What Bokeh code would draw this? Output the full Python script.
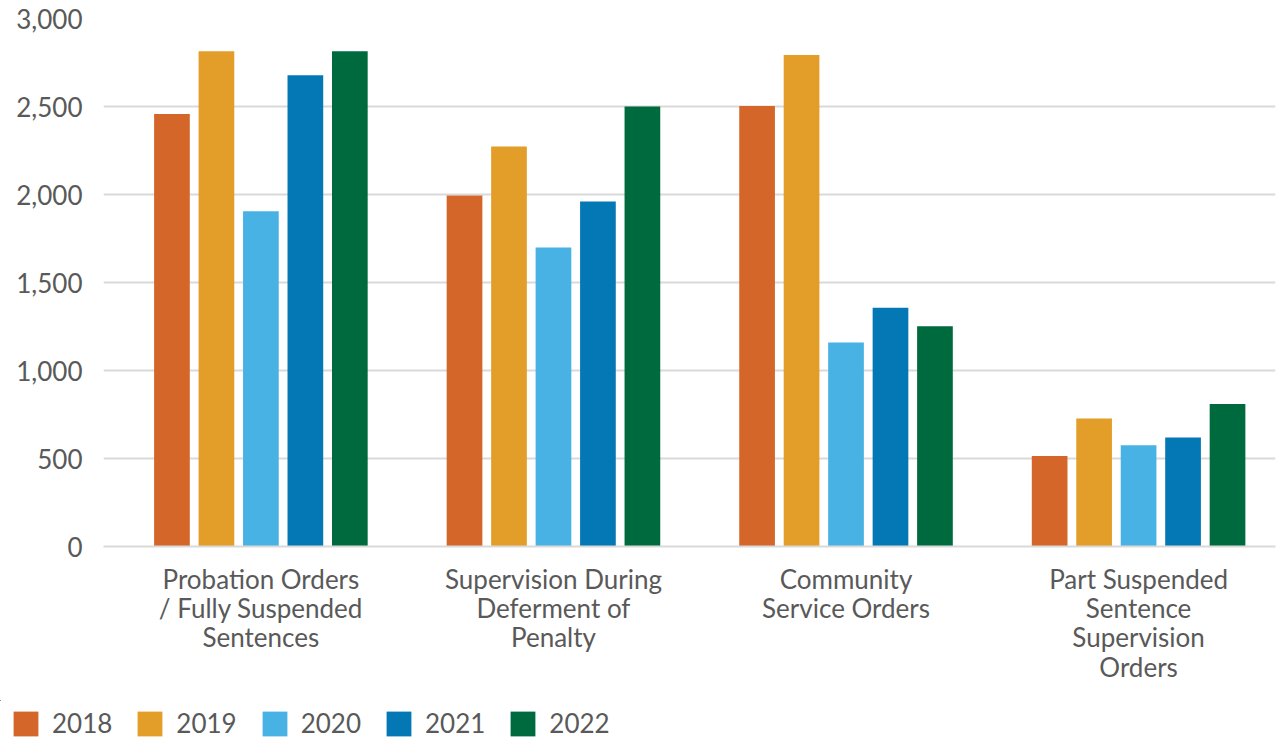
from bokeh.plotting import figure
from bokeh.layouts import column, row
from bokeh.models import ColumnDataSource, Range1d, FixedTicker, NumeralTickFormatter, Legend, LegendItem
from bokeh.transform import dodge
from bokeh.embed import file_html
from bokeh.resources import INLINE

categories = ["Probation Orders\n/ Fully Suspended\nSentences",
              "Supervision During\nDeferment of\nPenalty",
              "Community\nService Orders",
              "Part Suspended\nSentence\nSupervision\nOrders"]
years = ["2018", "2019", "2020", "2021", "2022"]
v2018 = [2457, 1994, 2503, 514]
v2019 = [2814, 2273, 2793, 727]
v2020 = [1905, 1699, 1159, 575]
v2021 = [2677, 1960, 1357, 620]
v2022 = [2814, 2500, 1252, 810]
colors = ["#D4662A", "#E29E28", "#48B2E5", "#0477B5", "#006A3F"]
y_ticks = [0, 500, 1000, 1500, 2000, 2500, 3000]

src = ColumnDataSource(dict(x=list(range(len(categories))),
                            y2018=v2018, y2019=v2019, y2020=v2020,
                            y2021=v2021, y2022=v2022))

FONT = "Lato"
TXT = "#595959"

p = figure(frame_width=1172, frame_height=528, output_backend="svg", toolbar_location=None,
           x_range=Range1d(-0.538, 3.468), y_range=Range1d(0, 3000),
           min_border_left=103, min_border_right=10, min_border_top=18,
           min_border_bottom=154,
           outline_line_color=None)

offsets = [-0.304, -0.152, 0.0, 0.152, 0.304]
for yr, col, off in zip(years, colors, offsets):
    p.vbar(x=dodge("x", off, range=p.x_range), top="y" + yr, width=0.122,
           source=src, fill_color=col, line_color=None)

p.xgrid.grid_line_color = None
p.ygrid.grid_line_color = "#d9d9d9"
p.ygrid.grid_line_width = 2
p.ygrid.ticker = FixedTicker(ticks=y_ticks)

p.yaxis.ticker = FixedTicker(ticks=y_ticks)
p.yaxis.formatter = NumeralTickFormatter(format="0,0")
p.yaxis.axis_line_color = None
p.yaxis.major_tick_line_color = None
p.yaxis.minor_tick_line_color = None
p.yaxis.major_label_text_font = FONT
p.yaxis.major_label_text_font_size = "26px"
p.yaxis.major_label_text_color = TXT
p.yaxis.major_label_standoff = 15

p.xaxis.ticker = FixedTicker(ticks=list(range(len(categories))))
p.xaxis.major_label_overrides = {i: c for i, c in enumerate(categories)}
p.xaxis.axis_line_color = "#d9d9d9"
p.xaxis.axis_line_width = 2
p.xaxis.major_tick_line_color = None
p.xaxis.minor_tick_line_color = None
p.xaxis.major_label_text_font = FONT
p.xaxis.major_label_text_font_size = "26px"
p.xaxis.major_label_text_color = TXT
p.xaxis.major_label_standoff = 10
p.xaxis.major_label_text_line_height = 0.92

# legend strip below the chart (its bars lie outside its own view, only the legend shows)
pl = figure(width=1286, height=40, output_backend="svg", toolbar_location=None,
            x_axis_type=None, y_axis_type=None, min_border=0,
            outline_line_color=None, x_range=Range1d(10, 11), y_range=Range1d(-2, -1))
pl.grid.grid_line_color = None
items = []
for yr, col in zip(years, colors):
    r = pl.vbar(x="x", top="y" + yr, width=0.1, source=src,
                fill_color=col, line_color=None)
    items.append(LegendItem(label=yr, renderers=[r]))

legend = Legend(items=items, orientation="horizontal", location=(10, 1),
                glyph_width=31, glyph_height=31, label_standoff=11, spacing=22,
                label_text_font=FONT, label_text_font_size="26px", label_text_color=TXT,
                border_line_color=None, background_fill_alpha=0,
                padding=0, margin=0)
pl.add_layout(legend, "center")

layout = column(p, row(pl), spacing=0)
open("out.html", "w").write(file_html(layout, INLINE))
